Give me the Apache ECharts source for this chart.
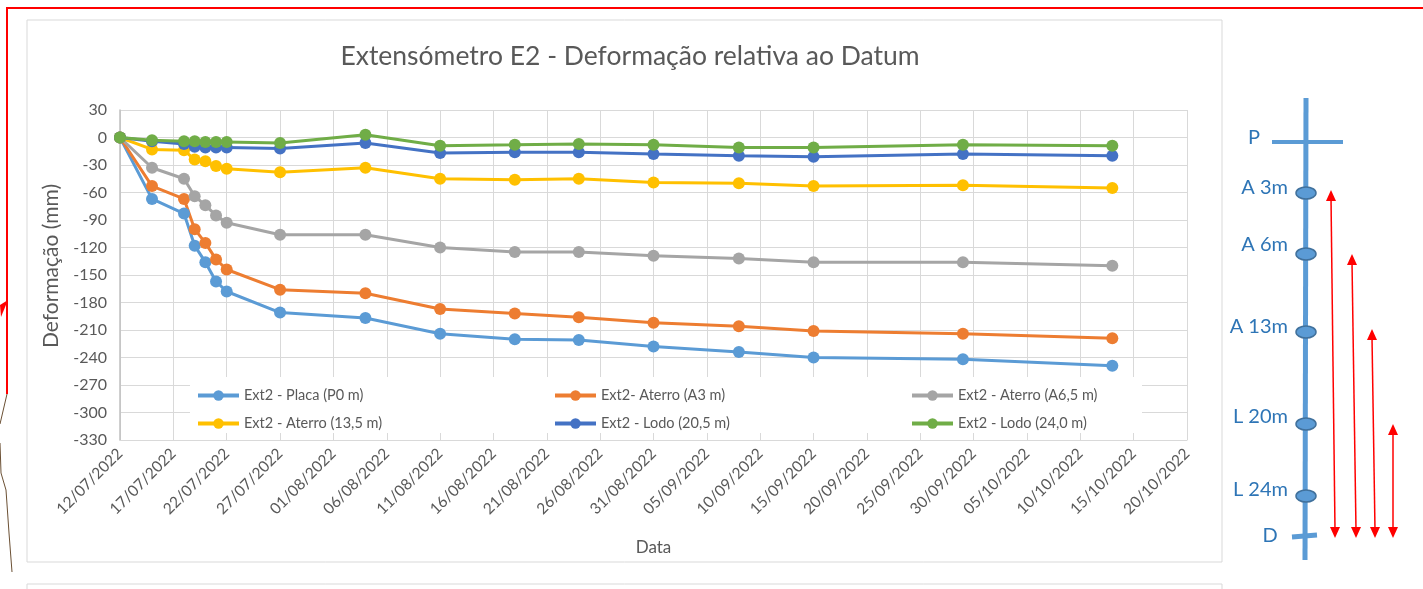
<!DOCTYPE html>
<html>
<head>
<meta charset="utf-8">
<script src="https://cdn.jsdelivr.net/npm/echarts@6/dist/echarts.min.js"></script>
<style>
  html, body { margin: 0; padding: 0; background: #ffffff; }
  #chart { width: 1423px; height: 589px; }
</style>
</head>
<body>
<div id="chart"></div>
<script>
// Reading dates (first reading is the datum)
const startDate = '2022-07-12';
const readingDates = ['2022-07-12', '2022-07-15', '2022-07-18', '2022-07-19', '2022-07-20', '2022-07-21',
  '2022-07-22', '2022-07-27', '2022-08-04', '2022-08-11', '2022-08-18', '2022-08-24', '2022-08-31',
  '2022-09-08', '2022-09-15', '2022-09-29', '2022-10-13'];

// Relative deformation per anchor (mm)
const placaP0   = [0, -67, -83, -118, -136, -157, -168, -191, -197, -214, -220, -221, -228, -234, -240, -242, -249];
const aterroA3  = [0, -53, -67, -100, -115, -133, -144, -166, -170, -187, -192, -196, -202, -206, -211, -214, -219];
const aterroA65 = [0, -33, -45, -64, -74, -85, -93, -106, -106, -120, -125, -125, -129, -132, -136, -136, -140];
const aterro135 = [0, -13, -14, -24, -26, -31, -34, -38, -33, -45, -46, -45, -49, -50, -53, -52, -55];
const lodo205   = [0, -4, -7, -10, -11, -11, -11, -12, -6, -17, -16, -16, -18, -20, -21, -18, -20];
const lodo240   = [0, -3, -4, -4, -5, -5, -5, -6, 3, -9, -8, -7, -8, -11, -11, -8, -9];

const seriesNames = ['Ext2 - Placa (P0 m)', 'Ext2- Aterro (A3 m)', 'Ext2 - Aterro (A6,5 m)',
  'Ext2 - Aterro (13,5 m)', 'Ext2 - Lodo (20,5 m)', 'Ext2 - Lodo (24,0 m)'];
const seriesValues = [placaP0, aterroA3, aterroA65, aterro135, lodo205, lodo240];
const seriesColors = ['#5B9BD5', '#ED7D31', '#A5A5A5', '#FFC000', '#4472C4', '#70AD47'];

// Axis span in days from the start date
const axisDays = { min: 0, max: 100, step: 5 };
const yTicks = { min: -330, max: 30, step: 30 };

const DAY = 86400000;
const t0 = Date.parse(startDate + 'T00:00:00Z');
const dayOffset = d => Math.round((Date.parse(d + 'T00:00:00Z') - t0) / DAY);
const fmtDate = v => {
  const d = new Date(t0 + v * DAY);
  const p = n => String(n).padStart(2, '0');
  return p(d.getUTCDate()) + '/' + p(d.getUTCMonth() + 1) + '/' + d.getUTCFullYear();
};

const FONT = 'Lato';
const TXT = '#595959';

const series = seriesNames.map((name, i) => ({
  name,
  type: 'line',
  data: readingDates.map((d, k) => [dayOffset(d), seriesValues[i][k]]),
  symbol: 'circle',
  symbolSize: 12,
  lineStyle: { width: 3, color: seriesColors[i] },
  itemStyle: { color: seriesColors[i] },
  emphasis: { disabled: true }
}));

const legendBase = {
  orient: 'vertical',
  top: 388,
  padding: 0,
  itemWidth: 41,
  itemHeight: 13,
  itemGap: 13,
  lineStyle: { width: 4 },
  textStyle: { fontFamily: FONT, fontSize: 14.5, color: TXT },
  selectedMode: false
};

// Extensometer scheme drawn beside the chart
const BLUE = '#5B9BD5';
const LABEL_BLUE = '#2E75B6';
const LABEL_FONT = '20px ' + FONT;
const anchors = [
  { y: 193, label: 'A 3m', ly: 188 },
  { y: 254, label: 'A 6m', ly: 245 },
  { y: 332, label: 'A 13m', ly: 327 },
  { y: 424, label: 'L 20m', ly: 417 },
  { y: 496, label: 'L 24m', ly: 490 }
];
const arrows = [
  { x1: 1331, y1: 190, x2: 1335, y2: 538 },
  { x1: 1352, y1: 254, x2: 1356, y2: 538 },
  { x1: 1372, y1: 329, x2: 1375, y2: 538 },
  { x1: 1393, y1: 424, x2: 1393, y2: 538 }
];

const graphics = [
  // outer frame of the chart
  { type: 'rect', shape: { x: 27, y: 20, width: 1195, height: 542 }, style: { fill: 'none', stroke: '#d9d9d9', lineWidth: 1 }, silent: true },
  { type: 'rect', shape: { x: 27, y: 584, width: 1195, height: 30 }, style: { fill: 'none', stroke: '#d9d9d9', lineWidth: 1 }, silent: true },
  // white panel behind the legend
  { type: 'rect', z: 3, shape: { x: 190, y: 377, width: 952, height: 56 }, style: { fill: '#ffffff' }, silent: true },
  // red markup
  { type: 'polyline', shape: { points: [[7, 394], [7, 8], [1423, 8]] }, style: { stroke: '#ff0000', lineWidth: 2, fill: 'none' }, silent: true },
  { type: 'polygon', shape: { points: [[8, 300], [0, 305], [1, 317]] }, style: { fill: '#ff0000' }, silent: true },
  { type: 'polyline', shape: { points: [[7, 394], [0, 424]] }, style: { stroke: '#6b5034', lineWidth: 1, fill: 'none' }, silent: true },
  { type: 'polyline', shape: { points: [[0, 443], [1, 473], [6, 490], [9, 533], [12, 572]] }, style: { stroke: '#6b5034', lineWidth: 1, fill: 'none' }, silent: true },
  // shaft, head plate and datum
  { type: 'line', shape: { x1: 1306, y1: 98, x2: 1305, y2: 560 }, style: { stroke: BLUE, lineWidth: 5 }, silent: true },
  { type: 'line', shape: { x1: 1272, y1: 142, x2: 1343, y2: 142 }, style: { stroke: BLUE, lineWidth: 4 }, silent: true },
  { type: 'line', shape: { x1: 1292, y1: 537, x2: 1317, y2: 535 }, style: { stroke: BLUE, lineWidth: 5 }, silent: true },
  { type: 'text', style: { text: 'P', x: 1254, y: 138, fill: LABEL_BLUE, font: LABEL_FONT, align: 'center', verticalAlign: 'middle' }, silent: true },
  { type: 'text', style: { text: 'D', x: 1270, y: 536, fill: LABEL_BLUE, font: LABEL_FONT, align: 'center', verticalAlign: 'middle' }, silent: true }
];
anchors.forEach(a => {
  graphics.push({ type: 'ellipse', shape: { cx: 1306, cy: a.y, rx: 10, ry: 6 }, style: { fill: BLUE, stroke: '#41719C', lineWidth: 1.5 }, silent: true });
  graphics.push({ type: 'text', style: { text: a.label, x: 1288, y: a.ly, fill: LABEL_BLUE, font: LABEL_FONT, align: 'right', verticalAlign: 'middle' }, silent: true });
});
arrows.forEach(a => {
  graphics.push({ type: 'line', shape: { x1: a.x1, y1: a.y1 + 8, x2: a.x2, y2: a.y2 - 8 }, style: { stroke: '#ff0000', lineWidth: 1.5 }, silent: true });
  graphics.push({ type: 'polygon', shape: { points: [[a.x1, a.y1], [a.x1 - 5, a.y1 + 11], [a.x1 + 5, a.y1 + 11]] }, style: { fill: '#ff0000' }, silent: true });
  graphics.push({ type: 'polygon', shape: { points: [[a.x2, a.y2], [a.x2 - 5, a.y2 - 11], [a.x2 + 5, a.y2 - 11]] }, style: { fill: '#ff0000' }, silent: true });
});

const chart = echarts.init(document.getElementById('chart'), null, { renderer: 'canvas' });
chart.setOption({
  animation: false,
  backgroundColor: '#ffffff',
  title: {
    text: 'Extensómetro E2 - Deformação relativa ao Datum',
    left: 625,
    top: 38,
    textAlign: 'center',
    textStyle: { fontFamily: FONT, fontSize: 26.5, fontWeight: 'normal', color: TXT }
  },
  grid: { left: 120, right: 236, top: 110, bottom: 149, containLabel: false },
  xAxis: {
    type: 'value',
    min: axisDays.min,
    max: axisDays.max,
    interval: axisDays.step,
    name: 'Data',
    nameLocation: 'middle',
    nameGap: 99,
    nameTextStyle: { fontFamily: FONT, fontSize: 17, color: TXT },
    axisLine: { show: true, onZero: false, lineStyle: { color: '#d9d9d9', width: 1 } },
    axisTick: { show: false },
    splitLine: { show: true, lineStyle: { color: '#d9d9d9', width: 1 } },
    axisLabel: { rotate: 45, formatter: fmtDate, fontFamily: FONT, fontSize: 15.5, color: TXT, margin: 11 }
  },
  yAxis: {
    type: 'value',
    min: yTicks.min,
    max: yTicks.max,
    interval: yTicks.step,
    name: 'Deformação (mm)',
    nameLocation: 'middle',
    nameGap: 58,
    nameTextStyle: { fontFamily: FONT, fontSize: 21, color: TXT, padding: [0, 0, 0, 18] },
    axisLine: { show: true, lineStyle: { color: '#bfbfbf', width: 1.5 } },
    axisTick: { show: false },
    splitLine: { show: true, lineStyle: { color: '#d9d9d9', width: 1 } },
    axisLabel: { fontFamily: FONT, fontSize: 16, color: TXT, margin: 13 }
  },
  legend: [
    Object.assign({}, legendBase, { left: 196, data: [seriesNames[0], seriesNames[3]] }),
    Object.assign({}, legendBase, { left: 553, data: [seriesNames[1], seriesNames[4]] }),
    Object.assign({}, legendBase, { left: 910, data: [seriesNames[2], seriesNames[5]] })
  ],
  graphic: { elements: graphics },
  series
});
</script>
</body>
</html>
